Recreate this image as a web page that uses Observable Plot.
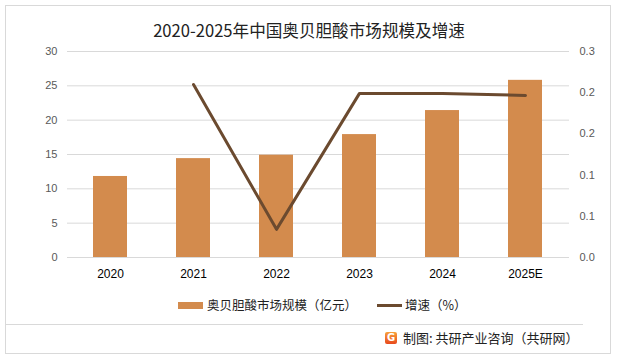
<!DOCTYPE html>
<html><head><meta charset="utf-8">
<script src="https://cdn.jsdelivr.net/npm/d3@7"></script>
<script src="https://cdn.jsdelivr.net/npm/@observablehq/plot@0.6"></script>
<style>
body{margin:0;background:#fff;}
#wrap{position:relative;width:618px;height:361px;overflow:hidden;font-family:"Noto Sans CJK SC","Noto Sans",sans-serif;background:#fff;}
#frame{position:absolute;left:5px;top:5px;width:606px;height:349px;border:1px solid #d9d9d9;box-sizing:border-box;}
#sep{position:absolute;left:6px;top:324px;width:577px;height:1px;background:#d9d9d9;}
#chart{position:absolute;left:0;top:0;}
#title{position:absolute;left:0;top:17px;width:618px;text-align:center;font-size:16.6px;color:#222;line-height:26px;}
.leg{position:absolute;font-size:12.5px;color:#222;line-height:16px;top:297px;white-space:nowrap;}
#sw1{position:absolute;left:178px;top:302px;width:25px;height:7px;background:#d38b4d;}
#sw2{position:absolute;left:377px;top:304px;width:25px;height:3px;background:#6b4a2f;}
#logo{position:absolute;left:385px;top:332px;width:12px;height:12px;border-radius:2px;background:linear-gradient(#f7a13a,#e8491d);color:#fff;font:bold 10px "DejaVu Sans",sans-serif;text-align:center;line-height:12px;}
#src{position:absolute;left:403px;top:329px;font-size:13px;color:#222;line-height:18px;white-space:nowrap;}
</style></head>
<body><div id="wrap">
<div id="frame"></div>
<div id="sep"></div>
<div id="chart"></div>
<div id="title">2020-2025年中国奥贝胆酸市场规模及增速</div>
<div id="sw1"></div><div class="leg" style="left:207px">奥贝胆酸市场规模（亿元）</div>
<div id="sw2"></div><div class="leg" style="left:405px">增速（%）</div>
<div id="logo">G</div>
<div id="src">制图: 共研产业咨询（共研网）</div>
</div>
<script>
const years = ["2020","2021","2022","2023","2024","2025E"];
const marketSize = [11.8,14.4,14.9,17.9,21.4,25.8];
const growthYears = ["2021","2022","2023","2024","2025E"];
const growthRate = [0.252,0.041,0.239,0.239,0.236];
const leftTicks = [0,5,10,15,20,25,30];
const rightTicks = [0,0.06,0.12,0.18,0.24,0.30];
const leftMax = 30, rightMax = 0.3;

const bars = years.map((y,i)=>({year:y,value:marketSize[i]}));
const rates = growthYears.map((y,i)=>({year:y,rate:growthRate[i]}));
const k = leftMax/rightMax;

const chart = Plot.plot({
  width:618,height:300,
  marginTop:51,marginBottom:43,marginLeft:67,marginRight:49,
  style:{fontSize:"11px",fontFamily:"'Liberation Sans','Noto Sans',sans-serif",background:"transparent"},
  x:{domain:years,paddingInner:0.59,paddingOuter:0.295,label:null,axis:null},
  y:{domain:[0,leftMax],label:null,axis:null},
  marks:[
    Plot.gridY(leftTicks,{stroke:"#d9d9d9",strokeOpacity:1}),
    Plot.barY(bars,{x:"year",y:"value",fill:"#d38b4d"}),
    Plot.lineY(rates,{x:"year",y:d=>d.rate*k,stroke:"#6b4a2f",strokeWidth:3}),
    Plot.axisY({anchor:"left",ticks:leftTicks,tickSize:0,tickPadding:10,fill:"#595959",label:null}),
    Plot.axisY({anchor:"right",ticks:rightTicks.map(t=>t*k),tickFormat:d=>(d/k).toFixed(1),tickSize:0,tickPadding:10,fill:"#595959",label:null}),
    Plot.axisX({tickSize:0,tickPadding:12,fill:"#000",fontSize:12,label:null})
  ]
});
document.getElementById("chart").appendChild(chart);
</script>
</body></html>
